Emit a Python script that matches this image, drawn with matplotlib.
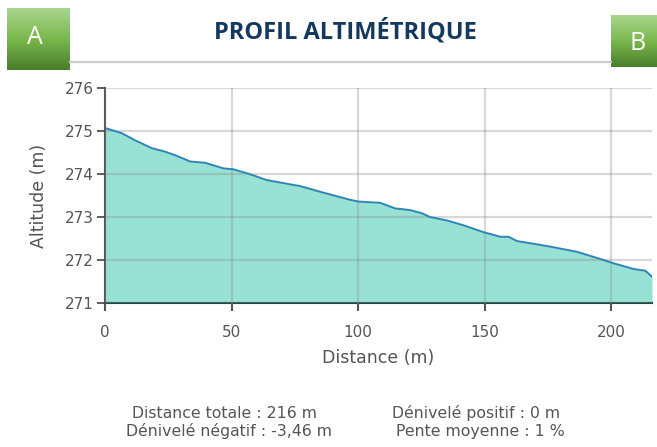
import matplotlib
matplotlib.use("Agg")
import matplotlib.pyplot as plt
import numpy as np
from matplotlib.colors import LinearSegmentedColormap

distance = [0, 6.6, 12, 18.5, 23.7, 28, 33.7, 39.6, 46.8, 50.7, 57, 63.8, 73.1, 77, 86, 96.8, 100,
            108.6, 114.6, 120.5, 125, 128.3, 135, 141.4, 149.3, 156.1, 159.4, 162.7, 169, 175.9,
            186.4, 196.9, 201, 208.8, 213.4, 216]
altitude = [275.07, 274.95, 274.78, 274.6, 274.52, 274.43, 274.29, 274.26, 274.13, 274.11, 274.0,
            273.86, 273.76, 273.72, 273.57, 273.4, 273.36, 273.33, 273.2, 273.16, 273.09, 273.0,
            272.92, 272.81, 272.65, 272.54, 272.54, 272.44, 272.38, 272.31, 272.19, 272.0, 271.92,
            271.79, 271.75, 271.61]
xticks = [0, 50, 100, 150, 200]
yticks = [271, 272, 273, 274, 275, 276]
title = "PROFIL ALTIMÉTRIQUE"
stats = [["Distance totale : 216 m", "Dénivelé positif : 0 m"],
         ["Dénivelé négatif : -3,46 m", "Pente moyenne : 1 %"]]

W, H = 657, 447
fig = plt.figure(figsize=(W / 100, H / 100), dpi=100)
plt.rcParams['font.family'] = ['DejaVu Sans']

ax = fig.add_axes([105 / W, 1 - 303 / H, (652 - 105) / W, (303 - 88) / H])
ax.fill_between(distance, altitude, 271, color="#98e2d5", lw=0, zorder=1)
ax.plot(distance, altitude, color="#2f86b6", lw=1.4, zorder=4)
ax.set_xlim(0, 216)
ax.set_ylim(271, 276)
ax.set_xticks(xticks)
ax.set_yticks(yticks)
ax.grid(True, color="#8a8a8a", alpha=0.33, lw=1.6)
ax.set_axisbelow(False)
for g in ax.get_xgridlines() + ax.get_ygridlines():
    g.set_zorder(3)
ax.spines['top'].set_visible(False)
ax.spines['right'].set_visible(False)
ax.spines['left'].set_color("#555555")
ax.spines['left'].set_linewidth(1.5)
ax.spines['bottom'].set_color("#1f4a44")
ax.spines['bottom'].set_linewidth(1.5)
ax.tick_params(axis='y', colors="#444444", labelcolor="#555555", labelsize=11, length=6, width=1.2, pad=2)
ax.tick_params(axis='x', colors="#555555", labelcolor="#555555", labelsize=11, length=6, width=1.5, pad=10)
ax.set_xlabel("Distance (m)", color="#555555", fontsize=12.5, labelpad=6)
ax.set_ylabel("Altitude (m)", color="#555555", fontsize=12.5, labelpad=12)

# title and separator
fig.text(345 / W, 1 - 39 / H, title, ha="center", va="baseline", fontsize=17,
         fontweight="bold", color="#15385e", family=["Open Sans", "DejaVu Sans"])
fig.add_artist(plt.Line2D([70 / W, 611 / W], [1 - 62 / H, 1 - 62 / H], color="#cccccc", lw=1.6))

# green boxes
cmap = LinearSegmentedColormap.from_list("g", ["#a9d68d", "#7ab84c", "#4a7e2c"])
grad = np.linspace(0, 1, 100).reshape(-1, 1)
for (x0, y0, x1, y1, lab, lx, ly) in [(7, 8, 70, 70, "A", 35, 37), (611, 15, 657, 67, "B", 638, 44)]:
    bax = fig.add_axes([x0 / W, 1 - y1 / H, (x1 - x0) / W, (y1 - y0) / H])
    bax.imshow(grad, aspect="auto", cmap=cmap, extent=[0, 1, 0, 1], origin="upper")
    bax.set_axis_off()
    fig.text(lx / W, 1 - ly / H, lab, ha="center", va="center", fontsize=18,
             color="white", family=["Open Sans", "DejaVu Sans"])

# stats
centers = [[224, 476], [229, 480]]
baselines = [418, 436]
for r, row in enumerate(stats):
    for c, s in enumerate(row):
        fig.text(centers[r][c] / W, 1 - baselines[r] / H, s, ha="center",
                 va="baseline", fontsize=11.3, color="#555555")

fig.savefig("out.png", dpi=100)
